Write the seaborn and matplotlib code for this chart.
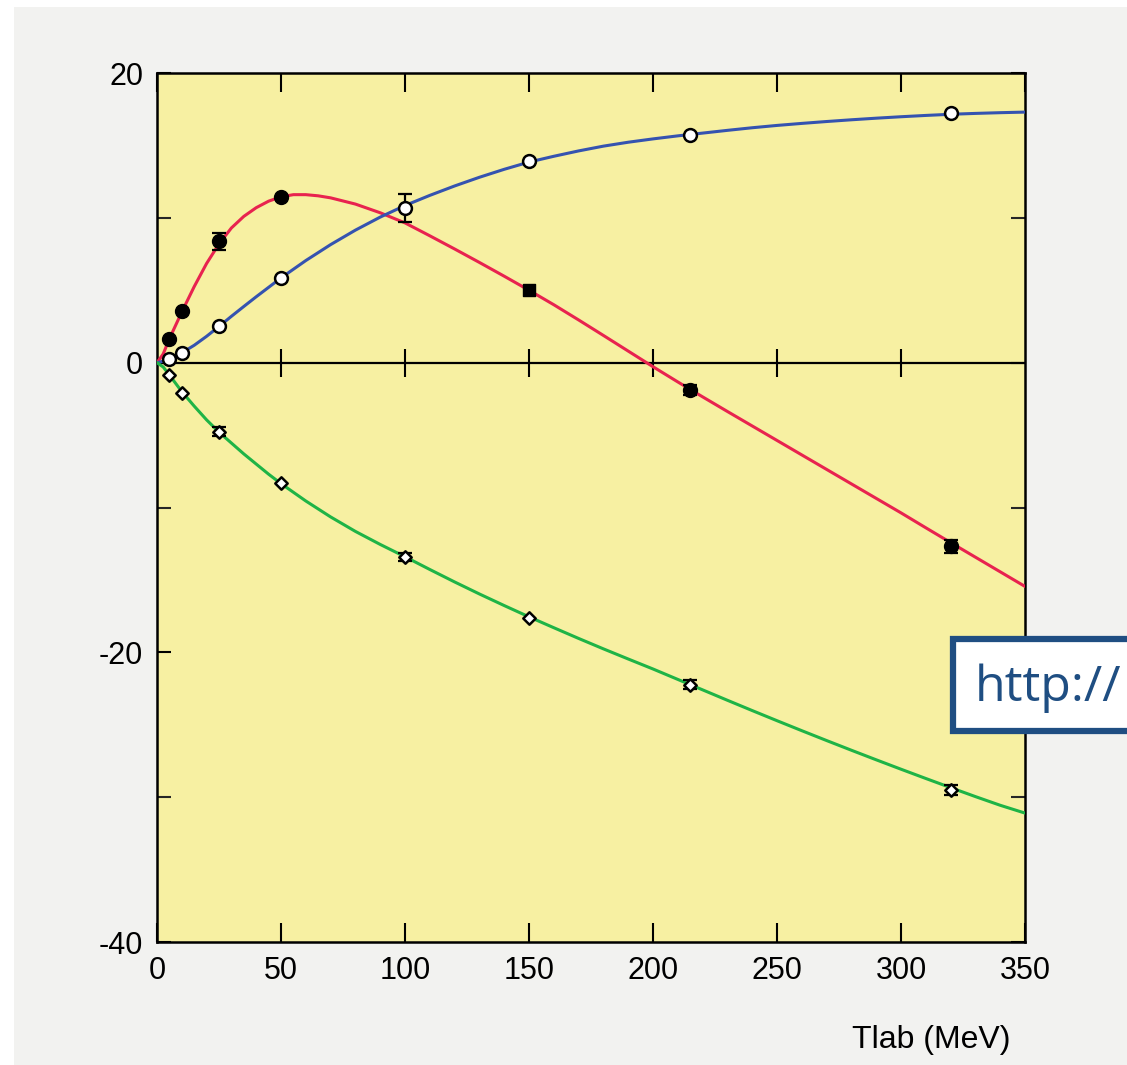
import matplotlib
matplotlib.use("Agg")
import matplotlib.pyplot as plt
from matplotlib.patches import Rectangle
from matplotlib.ticker import FixedLocator
import pandas as pd
import seaborn as sns

# ---- theory curves: phase shift (deg) vs lab energy (MeV) ----
curve_t = [0, 2.5, 5, 10, 15, 20, 25, 30, 35, 40, 45, 50, 55, 60, 65, 70,
           80, 90, 100, 110, 120, 130, 140, 150, 160, 170, 180, 190, 200,
           210, 220, 230, 240, 250, 260, 270, 280, 290, 300, 310, 320, 330,
           340, 350]
red_curve = [0, 0.6, 1.65, 3.5, 5.25, 6.85, 8.2, 9.3, 10.1, 10.7, 11.15, 11.45,
             11.6, 11.6, 11.52, 11.38, 10.95, 10.35, 9.65, 8.76, 7.85, 6.92,
             5.97, 5.0, 4.0, 2.95, 1.88, 0.8, -0.28, -1.33, -2.36, -3.37,
             -4.37, -5.37, -6.37, -7.37, -8.37, -9.37, -10.37, -11.4, -12.42,
             -13.43, -14.44, -15.45]
blue_curve = [0, 0.1, 0.27, 0.68, 1.2, 1.82, 2.5, 3.2, 3.88, 4.55, 5.2, 5.85,
              6.45, 7.05, 7.6, 8.15, 9.15, 10.05, 10.85, 11.55, 12.2, 12.8,
              13.35, 13.85, 14.25, 14.62, 14.95, 15.22, 15.45, 15.66, 15.85,
              16.04, 16.22, 16.38, 16.52, 16.65, 16.77, 16.88, 16.98, 17.07,
              17.15, 17.21, 17.26, 17.3]
green_curve = [0, -0.3, -0.85, -2.0, -3.0, -3.95, -4.8, -5.55, -6.3, -7.0,
               -7.7, -8.35, -8.95, -9.55, -10.1, -10.65, -11.65, -12.55, -13.4,
               -14.28, -15.14, -15.97, -16.77, -17.55, -18.3, -19.04, -19.76,
               -20.46, -21.15, -21.87, -22.59, -23.31, -24.02, -24.72, -25.41,
               -26.09, -26.76, -27.42, -28.07, -28.71, -29.34, -29.96, -30.56,
               -31.1]

# ---- measured phase shifts ----
red_t = [5, 10, 25, 50, 215, 320]
red_val = [1.64, 3.54, 8.38, 11.46, -1.88, -12.66]
red_err = [0, 0, 0.6, 0, 0.35, 0.45]
red_sq_t = [150]
red_sq_val = [5.04]

blue_t = [5, 10, 25, 50, 100, 150, 215, 320]
blue_val = [0.26, 0.67, 2.5, 5.85, 10.68, 13.9, 15.75, 17.24]
blue_err = [0, 0, 0, 0, 1.0, 0, 0, 0]

green_t = [5, 10, 25, 50, 100, 150, 215, 320]
green_val = [-0.85, -2.09, -4.77, -8.33, -13.42, -17.61, -22.24, -29.5]
green_err = [0, 0, 0.3, 0, 0.3, 0, 0.3, 0.35]

x_ticks = [0, 50, 100, 150, 200, 250, 300, 350]
y_major = [-40, -20, 0, 20]
y_minor = [-30, -10, 10]

RED = "#e8234f"
BLUE = "#3553b0"
GREEN = "#1fb446"
FACE = "#f7f0a2"

sns.set_theme(style="ticks")
plt.rcParams["font.family"] = ["Liberation Sans", "DejaVu Sans"]

W, H = 1127, 1065
fig = plt.figure(figsize=(W / 100, H / 100), dpi=100)
fig.patch.set_facecolor("white")
fig.add_artist(Rectangle((14 / W, 0), 1, 1 - 7 / H, transform=fig.transFigure,
                         facecolor="#f2f2f0", edgecolor="none", zorder=-10))

ax = fig.add_axes([157 / W, 1 - 942 / H, (1025 - 157) / W, (942 - 73) / H])
ax.set_facecolor(FACE)

curves = pd.DataFrame({"T": curve_t, "red": red_curve,
                       "blue": blue_curve, "green": green_curve})
for col, c in [("red", RED), ("blue", BLUE), ("green", GREEN)]:
    sns.lineplot(data=curves, x="T", y=col, color=c, lw=2.2, ax=ax,
                 sort=False, estimator=None, zorder=3)

# zero line with crossing ticks
ax.axhline(0, color="black", lw=1.6, zorder=2)
ax.plot(x_ticks[1:-1], [0] * (len(x_ticks) - 2), ls="none", marker="|",
        markersize=20, markeredgewidth=1.5, color="black", zorder=2)


def bars(t, v, e):
    tt = [a for a, b in zip(t, e) if b > 0]
    vv = [a for a, b in zip(v, e) if b > 0]
    ee = [b for b in e if b > 0]
    ax.errorbar(tt, vv, yerr=ee, fmt="none", ecolor="black", elinewidth=1.6,
                capsize=5, capthick=1.6, zorder=4)


bars(red_t, red_val, red_err)
bars(blue_t, blue_val, blue_err)
bars(green_t, green_val, green_err)

sns.scatterplot(x=red_t, y=red_val, marker="o", s=100, color="black",
                edgecolor="black", linewidth=1, ax=ax, zorder=5)
sns.scatterplot(x=red_sq_t, y=red_sq_val, marker="s", s=80, color="black",
                edgecolor="black", linewidth=1, ax=ax, zorder=5)
sns.scatterplot(x=blue_t, y=blue_val, marker="o", s=85, color="white",
                edgecolor="black", linewidth=1.8, ax=ax, zorder=5)
sns.scatterplot(x=green_t, y=green_val, marker="D", s=40, color="white",
                edgecolor="black", linewidth=1.8, ax=ax, zorder=5)

ax.set_xlim(0, 350)
ax.set_ylim(-40, 20)
ax.set_xlabel("")
ax.set_ylabel("")
ax.xaxis.set_major_locator(FixedLocator(x_ticks))
ax.set_xticklabels([str(v) for v in x_ticks])
ax.yaxis.set_major_locator(FixedLocator(y_major))
ax.set_yticklabels([str(v) for v in y_major])
ax.yaxis.set_minor_locator(FixedLocator(y_minor))
ax.xaxis.set_minor_locator(FixedLocator([]))

ax.tick_params(axis="x", which="major", direction="in", length=14, width=1.5,
               top=True, bottom=True, labelsize=22, pad=10, colors="black")
ax.tick_params(axis="y", which="major", direction="in", length=10, width=1.5,
               left=True, right=True, labelsize=22, pad=10, colors="black")
ax.tick_params(axis="y", which="minor", direction="in", length=10, width=1.5,
               left=True, right=True)
for s in ax.spines.values():
    s.set_color("black")
    s.set_linewidth(1.8)
    s.set_visible(True)

fig.text(1010 / W, 1 - 1040 / H, "Tlab (MeV)", ha="right", va="center",
         fontsize=23, color="black")

# url label box overlapping the right edge
fig.add_artist(Rectangle((953 / W, 1 - 731 / H), 200 / W, 92 / H,
                         transform=fig.transFigure, facecolor="white",
                         edgecolor="#1f4e82", lw=4.5, zorder=20, clip_on=False))
fig.text(975 / W, 1 - 688 / H, "http://", ha="left", va="center",
         fontsize=36, color="#1f4e82", family=["Open Sans", "DejaVu Sans"],
         zorder=21)

fig.savefig("out.png", dpi=100, facecolor=fig.get_facecolor())
